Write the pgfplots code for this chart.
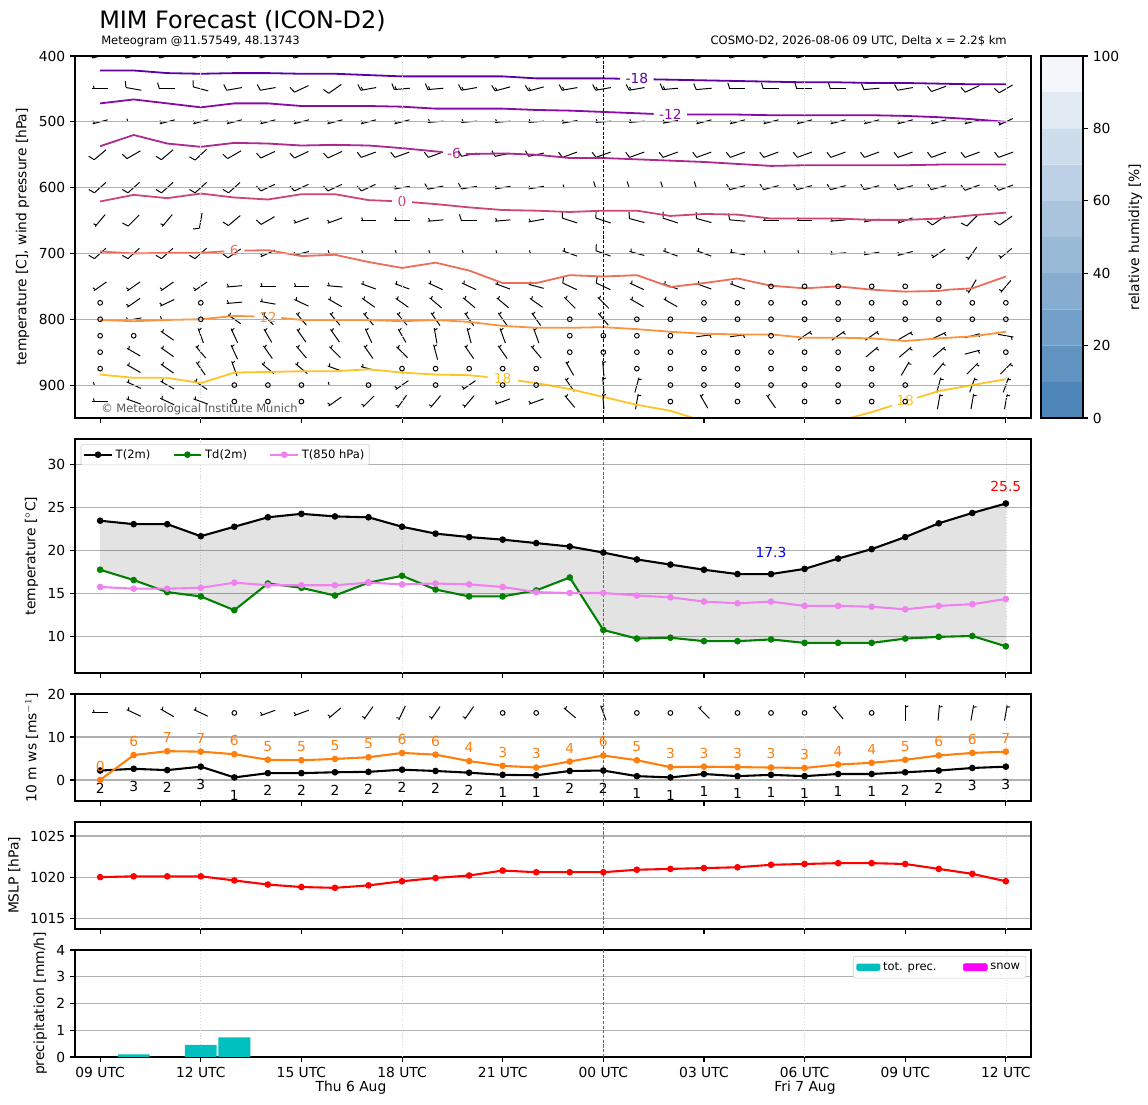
\documentclass[border=0pt]{standalone}
\usepackage{fontspec}
\setmainfont{DejaVu Sans}
\usepackage{pgfplots}
\pgfplotsset{compat=1.18}
\usepackage{pgfplotstable}

\definecolor{cmA}{HTML}{5C01A6}
\definecolor{cmB}{HTML}{8A0AA5}
\definecolor{cmC}{HTML}{AE2892}
\definecolor{cmD}{HTML}{CC4778}
\definecolor{cmE}{HTML}{EB6E5A}
\definecolor{cmF}{HTML}{F89540}
\definecolor{cmG}{HTML}{FDC527}
\definecolor{mplorange}{HTML}{FF7F0E}
\definecolor{mplgreen}{HTML}{008000}
\definecolor{mplviolet}{HTML}{EE82EE}
\definecolor{mplmagenta}{HTML}{FF00FF}
\definecolor{precc}{HTML}{00BFBF}
\definecolor{gridc}{HTML}{B0B0B0}
\definecolor{rh0}{RGB}{79,134,186}
\definecolor{rh1}{RGB}{97,147,193}
\definecolor{rh2}{RGB}{115,160,200}
\definecolor{rh3}{RGB}{134,173,208}
\definecolor{rh4}{RGB}{152,186,215}
\definecolor{rh5}{RGB}{170,196,222}
\definecolor{rh6}{RGB}{188,209,229}
\definecolor{rh7}{RGB}{206,221,236}
\definecolor{rh8}{RGB}{225,234,243}
\definecolor{rh9}{RGB}{243,247,251}

\pgfplotsset{
  mbase/.style={
    scale only axis, width=688.32bp, anchor=south west,
    xmin=-0.75, xmax=27.75,
    xtick={0,3,...,27}, xticklabels={},
    tick align=outside, tick pos=left,
    major tick length=3.5bp,
    every tick/.style={black, line width=0.8bp},
    axis line style={line width=0.8bp},
    ymajorgrids,
    major grid style={draw=gridc, line width=0.8bp},
    extra x ticks={3,9,21,27}, extra x tick labels={},
    extra x tick style={grid=major, major grid style={draw=black!15, line width=0.5bp, dash pattern=on 0.8bp off 1.3bp}, major tick length=0pt},
    tick label style={font=\fontsize{10}{12}\selectfont},
    label style={font=\fontsize{10}{12}\selectfont},
    /pgf/number format/assume math mode=true,
    /pgf/number format/1000 sep={},
    scaled ticks=false,
  },
  bline/.style={black, line width=0.7bp, no markers, -},
  calm/.style={only marks, mark=o, mark size=1.7bp, mark options={line width=0.7bp, black}},
  dline/.style={line width=1.5bp, mark=*, mark size=1.6bp, mark options={solid}},
}

% wind barbs, panel 1: columns t (hour), p (hPa), d (staff direction on screen, degrees)
% half barb only
\pgfplotstableread{
t p d
0 450 180
0 500 195
1 500 180
2 500 195
3 500 195
4 500 195
5 500 195
6 500 195
7 500 195
8 500 195
9 500 195
10 500 185
11 500 185
12 500 185
13 500 185
14 500 190
15 500 185
16 500 185
17 500 190
18 500 195
19 500 195
20 500 195
21 500 195
22 500 195
23 500 195
24 500 195
25 500 195
26 500 195
27 500 205
9 600 190
12 600 190
13 600 190
14 600 180
0 650 230
2 650 230
6 650 200
7 650 200
8 650 180
9 650 180
10 650 185
12 650 185
13 650 190
20 650 180
21 650 180
22 650 185
23 650 190
24 650 200
5 700 205
6 700 195
7 700 180
8 700 180
9 700 180
10 700 180
11 700 180
12 700 180
13 700 180
14 700 160
16 700 165
17 700 160
18 700 160
19 700 170
20 700 180
21 700 180
22 700 185
23 700 190
24 700 195
25 700 215
26 700 235
27 700 220
0 750 215
1 750 215
2 750 215
3 750 215
4 750 185
5 750 180
6 750 180
7 750 175
8 750 160
9 750 160
10 750 155
11 750 155
12 750 160
13 750 165
16 750 155
17 750 160
18 750 160
19 750 160
26 750 240
27 750 230
1 775 215
2 775 205
4 775 185
5 775 170
6 775 155
7 775 150
8 775 145
9 775 145
10 775 140
11 775 140
12 775 140
13 775 145
14 775 135
15 775 135
16 775 150
17 775 150
1 800 190
2 800 180
4 800 145
5 800 135
6 800 130
7 800 130
8 800 130
9 800 130
10 800 125
11 800 125
12 800 125
13 800 125
15 800 130
2 825 145
3 825 110
4 825 115
5 825 120
6 825 125
7 825 125
8 825 115
9 825 120
10 825 100
11 825 105
12 825 110
13 825 110
18 825 8
19 825 8
21 825 35
22 825 35
23 825 35
24 825 30
25 825 25
26 825 15
27 825 350
1 850 150
2 850 145
3 850 130
4 850 115
5 850 125
6 850 130
7 850 135
8 850 125
9 850 135
10 850 105
11 850 125
12 850 125
13 850 130
23 850 40
24 850 40
25 850 40
26 850 15
1 875 150
2 875 145
3 875 125
4 875 110
5 875 140
6 875 140
7 875 160
8 875 165
14 875 120
15 875 95
24 875 60
25 875 50
26 875 45
27 875 45
0 900 180
1 900 155
2 900 150
3 900 145
7 900 180
9 900 215
11 900 215
14 900 125
15 900 95
16 900 75
25 900 75
26 900 70
27 900 70
0 925 180
1 925 160
2 925 155
3 925 160
7 925 215
8 925 225
9 925 235
10 925 230
11 925 230
12 925 200
13 925 200
14 925 130
15 925 95
16 925 80
18 925 120
20 925 125
25 925 80
26 925 80
27 925 80
}\tabH

% one full barb
\pgfplotstableread{
t p d
0 400 195
1 400 195
2 400 195
3 400 195
4 400 195
5 400 195
6 400 195
7 400 195
8 400 195
9 400 195
10 400 195
11 400 195
12 400 195
13 400 195
14 400 195
15 400 195
16 400 195
17 400 195
18 400 195
19 400 195
20 400 195
21 400 195
22 400 195
23 400 195
24 400 195
25 400 195
26 400 195
27 400 195
1 450 170
2 450 180
3 450 165
4 450 190
5 450 190
6 450 205
7 450 215
18 450 185
19 450 180
20 450 180
21 450 180
22 450 180
23 450 185
24 450 190
25 450 200
26 450 205
27 450 210
0 550 220
1 550 210
2 550 220
3 550 223
4 550 210
5 550 205
6 550 205
7 550 205
8 550 200
9 550 200
10 550 200
11 550 192
12 550 192
13 550 192
14 550 200
15 550 200
16 550 200
17 550 200
18 550 200
19 550 200
20 550 200
21 550 200
22 550 200
23 550 200
24 550 200
25 550 200
26 550 200
27 550 200
0 600 222
1 600 222
2 600 222
3 600 222
4 600 222
5 600 205
6 600 205
7 600 205
8 600 205
10 600 192
11 600 190
15 600 180
16 600 180
17 600 180
18 600 180
19 600 195
20 600 195
21 600 195
22 600 195
23 600 195
24 600 195
25 600 195
26 600 200
27 600 200
1 650 225
3 650 260
4 650 220
5 650 210
11 650 180
14 650 162
15 650 162
16 650 165
17 650 162
18 650 165
19 650 175
25 650 215
26 650 225
27 650 215
0 700 222
1 700 222
2 700 222
3 700 222
4 700 215
15 700 160
14 750 155
15 750 155
}\tabF

% full + half barb
\pgfplotstableread{
t p d
8 450 190
9 450 185
10 450 185
11 450 190
12 450 195
13 450 195
14 450 190
15 450 190
16 450 190
17 450 185
}\tabFH

% calm
\pgfplotstableread{
t p
20 750
21 750
22 750
23 750
24 750
25 750
0 775
3 775
18 775
19 775
20 775
21 775
22 775
23 775
24 775
25 775
26 775
27 775
0 800
3 800
14 800
16 800
17 800
18 800
19 800
20 800
21 800
22 800
23 800
24 800
25 800
26 800
27 800
0 825
1 825
14 825
15 825
16 825
17 825
20 825
0 850
14 850
15 850
16 850
17 850
18 850
19 850
20 850
21 850
22 850
27 850
0 875
9 875
10 875
11 875
12 875
13 875
16 875
17 875
18 875
19 875
20 875
21 875
22 875
23 875
4 900
5 900
6 900
8 900
10 900
12 900
13 900
17 900
18 900
19 900
20 900
21 900
22 900
23 900
24 900
4 925
5 925
6 925
17 925
19 925
21 925
22 925
23 925
24 925
}\tabC

% 10 m wind barbs (panel 3)
\pgfplotstableread{
t d
0 180
1 155
2 150
3 155
5 200
6 200
7 220
8 235
9 245
10 235
11 235
14 140
15 110
18 135
22 130
24 90
25 85
26 80
27 80
}\wsH
\pgfplotstableread{
t y
4 15.6
12 15.6
13 15.6
16 15.6
17 15.6
19 15.6
20 15.6
21 15.6
23 15.6
}\wsC

\pgfplotstableread{
t T Td T850
0 23.5 17.8 15.8
1 23.1 16.6 15.6
2 23.1 15.2 15.6
3 21.7 14.7 15.7
4 22.8 13.1 16.3
5 23.9 16.2 16.0
6 24.3 15.7 16.0
7 24.0 14.8 16.0
8 23.9 16.3 16.3
9 22.8 17.1 16.1
10 22.0 15.5 16.2
11 21.6 14.7 16.1
12 21.3 14.7 15.8
13 20.9 15.4 15.2
14 20.5 16.9 15.1
15 19.8 10.8 15.1
16 19.0 9.8 14.8
17 18.4 9.9 14.6
18 17.8 9.5 14.1
19 17.3 9.5 13.9
20 17.3 9.7 14.1
21 17.9 9.3 13.6
22 19.1 9.3 13.6
23 20.2 9.3 13.5
24 21.6 9.8 13.2
25 23.2 10.0 13.6
26 24.4 10.1 13.8
27 25.5 8.9 14.4
}\temptab

\pgfplotstableread{
t ws gust
0 2.2 0.0
1 2.6 5.8
2 2.3 6.7
3 3.1 6.6
4 0.6 6.0
5 1.6 4.7
6 1.6 4.6
7 1.8 4.9
8 1.9 5.3
9 2.4 6.3
10 2.1 5.9
11 1.7 4.4
12 1.2 3.3
13 1.1 2.9
14 2.1 4.3
15 2.2 5.7
16 0.9 4.6
17 0.6 3.0
18 1.4 3.1
19 0.9 3.0
20 1.2 2.9
21 0.9 2.8
22 1.4 3.6
23 1.4 4.0
24 1.8 4.7
25 2.2 5.7
26 2.8 6.3
27 3.1 6.6
}\windtab

\pgfplotstableread{
t p
0 1020.0
1 1020.1
2 1020.1
3 1020.1
4 1019.6
5 1019.1
6 1018.8
7 1018.7
8 1019.0
9 1019.5
10 1019.9
11 1020.2
12 1020.8
13 1020.6
14 1020.6
15 1020.6
16 1020.9
17 1021.0
18 1021.1
19 1021.2
20 1021.5
21 1021.6
22 1021.7
23 1021.7
24 1021.6
25 1021.0
26 1020.4
27 1019.5
}\mslptab

\begin{document}
\begin{tikzpicture}
\useasboundingbox (0,0) rectangle (826.56bp,795.6bp);

% ---------------- panel 1 ----------------
\begin{axis}[mbase, at={(54bp,494.64bp)}, height=260.64bp,
  y dir=reverse, ymin=400, ymax=950, ytick={400,500,...,900},
  ylabel={temperature [C], wind pressure [hPa]},
  axis on top]
% staffs
\addplot[bline, quiver={u={0.46209*cos(\thisrow{d})}, v={-23.55*sin(\thisrow{d})}}]
  table[x expr={\thisrow{t}-0.23104*cos(\thisrow{d})}, y expr={\thisrow{p}+11.775*sin(\thisrow{d})}] {\tabH};
\addplot[bline, quiver={u={0.46209*cos(\thisrow{d})}, v={-23.55*sin(\thisrow{d})}}]
  table[x expr={\thisrow{t}-0.23104*cos(\thisrow{d})}, y expr={\thisrow{p}+11.775*sin(\thisrow{d})}] {\tabF};
\addplot[bline, quiver={u={0.46209*cos(\thisrow{d})}, v={-23.55*sin(\thisrow{d})}}]
  table[x expr={\thisrow{t}-0.23104*cos(\thisrow{d})}, y expr={\thisrow{p}+11.775*sin(\thisrow{d})}] {\tabFH};
% full barbs
\addplot[bline, quiver={u={0.05776*cos(\thisrow{d})+0.18483*sin(\thisrow{d})}, v={9.4199*cos(\thisrow{d})-2.9437*sin(\thisrow{d})}}]
  table[x expr={\thisrow{t}+0.23104*cos(\thisrow{d})}, y expr={\thisrow{p}-11.775*sin(\thisrow{d})}] {\tabF};
\addplot[bline, quiver={u={0.05776*cos(\thisrow{d})+0.18483*sin(\thisrow{d})}, v={9.4199*cos(\thisrow{d})-2.9437*sin(\thisrow{d})}}]
  table[x expr={\thisrow{t}+0.23104*cos(\thisrow{d})}, y expr={\thisrow{p}-11.775*sin(\thisrow{d})}] {\tabFH};
% half barbs
\addplot[bline, quiver={u={0.02888*cos(\thisrow{d})+0.09242*sin(\thisrow{d})}, v={4.70995*cos(\thisrow{d})-1.47186*sin(\thisrow{d})}}]
  table[x expr={\thisrow{t}+0.17328*cos(\thisrow{d})}, y expr={\thisrow{p}-8.8312*sin(\thisrow{d})}] {\tabH};
\addplot[bline, quiver={u={0.02888*cos(\thisrow{d})+0.09242*sin(\thisrow{d})}, v={4.70995*cos(\thisrow{d})-1.47186*sin(\thisrow{d})}}]
  table[x expr={\thisrow{t}+0.17328*cos(\thisrow{d})}, y expr={\thisrow{p}-8.8312*sin(\thisrow{d})}] {\tabFH};
% calm
\addplot[calm] table[x=t,y=p] {\tabC};

\addplot[cmA, line width=1.3bp, unbounded coords=jump] coordinates {(0,422) (1,422) (2,426) (3,427) (4,426) (5,426) (6,427) (7,427) (8,429) (9,431) (10,431) (11,431) (12,431) (13,434) (14,434) (15,434) (15.5,434.5) (16,nan) (16.5,435.5) (17,436) (18,437) (19,438) (20,439) (21,440) (22,440) (23,441) (24,441) (25,442) (26,443) (27,443)};
\addplot[cmB, line width=1.3bp, unbounded coords=jump] coordinates {(0,472) (1,466) (2,472) (3,478) (4,472) (5,472) (6,476) (7,476) (8,476) (9,477) (10,480) (11,480) (12,480) (13,482) (14,483) (15,485) (16,487) (16.5,488) (17,nan) (17.5,489) (18,489) (19,489) (20,490) (21,490) (22,490) (23,490) (24,491) (25,493) (26,496) (27,500)};
\addplot[cmC, line width=1.3bp, unbounded coords=jump] coordinates {(0,537) (1,520) (2,533) (3,538) (4,532) (5,533) (6,536) (7,535) (8,536) (9,540) (10,545) (10.2,545.8) (10.5,nan) (10.9,548.6) (11,549) (12,548) (13,550) (14,555) (15,555) (16,557) (17,559) (18,561) (19,564) (20,567) (21,566) (22,566) (23,566) (24,566) (25,565) (26,565) (27,565)};
\addplot[cmD, line width=1.3bp, unbounded coords=jump] coordinates {(0,621) (1,611) (2,616) (3,609) (4,615) (5,618) (6,610) (7,610) (8,619) (8.7,620.4) (9,nan) (9.3,622.2) (10,625) (11,630) (12,634) (13,635) (14,637) (15,635) (16,635) (17,643) (18,640) (19,641) (20,647) (21,647) (22,647) (23,649) (24,649) (25,647) (26,642) (27,638)};
\addplot[cmE, line width=1.3bp, unbounded coords=jump] coordinates {(0,697) (1,700) (2,699) (3,699) (3.7,696.9) (4,nan) (4.3,695.7) (5,695) (6,704) (7,702) (8,713) (9,722) (10,714) (11,726) (12,745) (13,745) (14,733) (15,735) (16,733) (17,751) (18,745) (19,738) (20,749) (21,753) (22,750) (23,755) (24,758) (25,757) (25.3,755) (26,753) (27,735)};
\addplot[cmF, line width=1.3bp, unbounded coords=jump] coordinates {(0,801) (1,803) (2,801) (3,800) (4,795) (4.6,795.6) (5,nan) (5.4,798) (6,801) (7,801) (8,801) (9,803) (10,801) (11,804) (12,810) (13,813) (14,813) (15,812) (16,815) (17,819) (18,822) (19,823) (20,823) (21,828) (22,828) (23,829) (24,833) (25,829) (26,826) (27,819)};
\addplot[cmG, line width=1.3bp, unbounded coords=jump] coordinates {(0,884) (1,889) (2,889) (3,897) (4,881) (5,880) (6,879) (7,879) (8,876) (9,881) (10,884) (11,885) (11.55,887.75) (12,nan) (12.45,893.15) (13,897) (14,906) (15,918) (16,930) (17,939) (18,955) (19,960) (20,962) (21,960) (22,955) (23,941) (23.6,931.4) (24,nan) (24.35,919.4) (25,909) (26,900) (27,891)};

\node[cmA, font=\fontsize{10}{12}\selectfont] at (axis cs:16,433.5) {-18};
\node[cmB, font=\fontsize{10}{12}\selectfont] at (axis cs:17,489) {-12};
\node[cmC, font=\fontsize{10}{12}\selectfont] at (axis cs:10.55,548) {-6};
\node[cmD, font=\fontsize{10}{12}\selectfont] at (axis cs:9,621) {0};
\node[cmE, font=\fontsize{10}{12}\selectfont] at (axis cs:4,695.5) {6};
\node[cmF, font=\fontsize{10}{12}\selectfont] at (axis cs:5,797) {12};
\node[cmG, font=\fontsize{10}{12}\selectfont] at (axis cs:12,890) {18};
\node[cmG, font=\fontsize{10}{12}\selectfont] at (axis cs:24,924) {18};
\draw[black, line width=0.6bp, dash pattern=on 2.2bp off 1.2bp] (rel axis cs:0.552632,0) -- (rel axis cs:0.552632,1);
\end{axis}

% ---------------- colorbar ----------------
\begin{axis}[at={(749.52bp,494.64bp)}, anchor=south west, scale only axis,
  width=30.24bp, height=260.64bp, xmin=0, xmax=1, ymin=0, ymax=100,
  xtick=\empty, ytick={0,20,...,100}, ytick pos=right, yticklabel pos=right,
  tick align=outside, major tick length=3.5bp,
  every tick/.style={black, line width=0.8bp},
  axis line style={line width=0.8bp},
  tick label style={font=\fontsize{10}{12}\selectfont},
  label style={font=\fontsize{10}{12}\selectfont},
  /pgf/number format/assume math mode=true,
  ylabel={relative humidity [\%]}, axis on top]
\addplot[fill=rh0, draw=none] coordinates {(0,0) (1,0) (1,10) (0,10) (0,0)};
\addplot[fill=rh1, draw=none] coordinates {(0,10) (1,10) (1,20) (0,20) (0,10)};
\addplot[fill=rh2, draw=none] coordinates {(0,20) (1,20) (1,30) (0,30) (0,20)};
\addplot[fill=rh3, draw=none] coordinates {(0,30) (1,30) (1,40) (0,40) (0,30)};
\addplot[fill=rh4, draw=none] coordinates {(0,40) (1,40) (1,50) (0,50) (0,40)};
\addplot[fill=rh5, draw=none] coordinates {(0,50) (1,50) (1,60) (0,60) (0,50)};
\addplot[fill=rh6, draw=none] coordinates {(0,60) (1,60) (1,70) (0,70) (0,60)};
\addplot[fill=rh7, draw=none] coordinates {(0,70) (1,70) (1,80) (0,80) (0,70)};
\addplot[fill=rh8, draw=none] coordinates {(0,80) (1,80) (1,90) (0,90) (0,80)};
\addplot[fill=rh9, draw=none] coordinates {(0,90) (1,90) (1,100) (0,100) (0,90)};
\end{axis}

% ---------------- panel 2 ----------------
\begin{axis}[mbase, at={(54bp,311.04bp)}, height=168.48bp,
  ymin=5.8, ymax=33, ytick={10,15,20,25,30},
  ylabel={temperature [$^\circ$C]},
  legend style={at={(0.006,0.978)}, anchor=north west, legend columns=3,
    draw=black!20, rounded corners=1.5bp, font=\fontsize{8.33}{10}\selectfont,
    inner sep=1.5bp, /tikz/every even column/.append style={column sep=14bp}},
  legend image code/.code={\draw[mark repeat=2, mark phase=2] plot coordinates {(0bp,0bp) (10bp,0bp) (20bp,0bp)};}]
\addplot[fill=black, fill opacity=0.11, draw=none, forget plot] coordinates {
 (0,23.5) (1,23.1) (2,23.1) (3,21.7) (4,22.8) (5,23.9) (6,24.3) (7,24.0) (8,23.9) (9,22.8) (10,22.0) (11,21.6) (12,21.3) (13,20.9) (14,20.5) (15,19.8) (16,19.0) (17,18.4) (18,17.8) (19,17.3) (20,17.3) (21,17.9) (22,19.1) (23,20.2) (24,21.6) (25,23.2) (26,24.4) (27,25.5)
 (27,8.9) (26,10.1) (25,10.0) (24,9.8) (23,9.3) (22,9.3) (21,9.3) (20,9.7) (19,9.5) (18,9.5) (17,9.9) (16,9.8) (15,10.8) (14,16.9) (13,15.4) (12,14.7) (11,14.7) (10,15.5) (9,17.1) (8,16.3) (7,14.8) (6,15.7) (5,16.2) (4,13.1) (3,14.7) (2,15.2) (1,16.6) (0,17.8) (0,23.5)};
\addplot[black, dline] table[x=t,y=T] {\temptab};
\addlegendentry{T(2m)}
\addplot[mplgreen, dline] table[x=t,y=Td] {\temptab};
\addlegendentry{Td(2m)}
\addplot[mplviolet, dline] table[x=t,y=T850] {\temptab};
\addlegendentry{T(850 hPa)}
\node[blue, font=\fontsize{10}{12}\selectfont] at (axis cs:20,19.8) {17.3};
\node[red, font=\fontsize{10}{12}\selectfont] at (axis cs:27,27.45) {25.5};
\draw[black!60, line width=0.6bp, dash pattern=on 2.2bp off 1.2bp] (rel axis cs:0.552632,0) -- (rel axis cs:0.552632,1);
\end{axis}

% ---------------- panel 3 ----------------
\begin{axis}[mbase, at={(54bp,218.88bp)}, height=77.04bp,
  ymin=-4.88, ymax=20, ytick={0,10,20},
  ylabel={10 m ws [ms$^{-1}$]}]
\addplot[bline, quiver={u={0.46209*cos(\thisrow{d})}, v={3.6041*sin(\thisrow{d})}}]
  table[x expr={\thisrow{t}-0.23104*cos(\thisrow{d})}, y expr={15.6-1.8020*sin(\thisrow{d})}] {\wsH};
\addplot[bline, quiver={u={0.02888*cos(\thisrow{d})+0.09242*sin(\thisrow{d})}, v={0.22525*sin(\thisrow{d})-0.72081*cos(\thisrow{d})}}]
  table[x expr={\thisrow{t}+0.17328*cos(\thisrow{d})}, y expr={15.6+1.35152*sin(\thisrow{d})}] {\wsH};
\addplot[calm] table[x=t,y=y] {\wsC};
\addplot[black, dline,
  nodes near coords={\pgfmathprintnumber[fixed,precision=0]{\pgfplotspointmeta}},
  every node near coord/.append style={font=\fontsize{10}{12}\selectfont, text=black, anchor=north, yshift=-5bp}]
  table[x=t,y=ws] {\windtab};
\addplot[mplorange, dline,
  nodes near coords={\pgfmathprintnumber[fixed,precision=0]{\pgfplotspointmeta}},
  every node near coord/.append style={font=\fontsize{10}{12}\selectfont, text=mplorange, anchor=south, yshift=2bp}]
  table[x=t,y=gust] {\windtab};
\draw[black!60, line width=0.6bp, dash pattern=on 2.2bp off 1.2bp] (rel axis cs:0.552632,0) -- (rel axis cs:0.552632,1);
\end{axis}

% ---------------- panel 4 ----------------
\begin{axis}[mbase, at={(54bp,126.72bp)}, height=77.04bp,
  ymin=1013.7, ymax=1026.7, ytick={1015,1020,1025},
  ylabel={MSLP [hPa]}]
\addplot[red, dline] table[x=t,y=p] {\mslptab};
\draw[black!60, line width=0.6bp, dash pattern=on 2.2bp off 1.2bp] (rel axis cs:0.552632,0) -- (rel axis cs:0.552632,1);
\end{axis}

% ---------------- panel 5 ----------------
\begin{axis}[mbase, at={(54bp,34.56bp)}, height=77.04bp,
  ymin=0, ymax=4, ytick={0,1,2,3,4},
  xticklabels={09 UTC,12 UTC,15 UTC,18 UTC,21 UTC,00 UTC,03 UTC,06 UTC,09 UTC,12 UTC},
  ylabel={precipitation [mm/h]},
  legend style={at={(0.995,0.944)}, anchor=north east, legend columns=2,
    draw=black!20, rounded corners=1.5bp, font=\fontsize{8.33}{10}\selectfont,
    inner sep=2.2bp, /tikz/every even column/.append style={column sep=17bp}}]
\addplot[ybar, bar width=0.95, fill=precc, draw=none,
  legend image code/.code={\fill[precc] (0bp,-2.6bp) rectangle (17.3bp,2.6bp);}]
  coordinates {(1,0.1) (3,0.45) (4,0.73)};
\addlegendentry{tot. prec.}
\addlegendimage{legend image code/.code={\fill[mplmagenta] (0bp,-2.6bp) rectangle (17.3bp,2.6bp);}}
\addlegendentry{snow}
\draw[black!60, line width=0.6bp, dash pattern=on 2.2bp off 1.2bp] (rel axis cs:0.552632,0) -- (rel axis cs:0.552632,1);
\end{axis}

% ---------------- texts ----------------
\node[anchor=base west, font=\fontsize{17.3}{20}\selectfont, inner sep=0] at (71.28bp,774.72bp) {MIM Forecast (ICON-D2)};
\node[anchor=base west, font=\fontsize{8.33}{10}\selectfont, inner sep=0] at (72.72bp,763.2bp) {Meteogram @11.57549, 48.13743};
\node[anchor=base east, font=\fontsize{8.33}{10}\selectfont, inner sep=0] at (725.04bp,763.2bp) {COSMO-D2, 2026-08-06 09 UTC, Delta x = 2.2\$ km};
\node[anchor=base west, font=\fontsize{8.33}{10}\selectfont, text=black!65, inner sep=0] at (72.72bp,498.24bp) {© Meteorological Institute Munich};
\node[anchor=base, font=\fontsize{10}{12}\selectfont, inner sep=0] at (252.72bp,10.08bp) {Thu 6 Aug};
\node[anchor=base, font=\fontsize{10}{12}\selectfont, inner sep=0] at (579.6bp,10.08bp) {Fri 7 Aug};
\end{tikzpicture}
\end{document}
